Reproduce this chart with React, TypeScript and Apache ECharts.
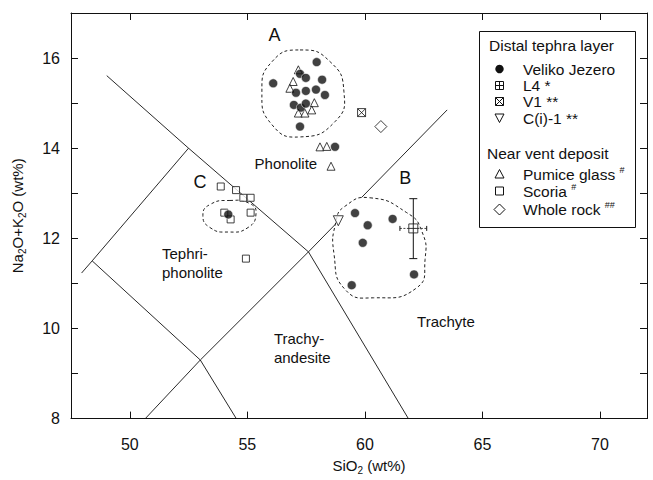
import React, { useEffect, useRef } from 'react';
import * as echarts from 'echarts';

const FONT = "'Liberation Sans', Arial, Helvetica, sans-serif";
const INK = '#111';

// Axes
const xRange = [47.5, 72];
const yRange = [8, 17];
const xTickLabels = [50, 55, 60, 65, 70];
const yTickLabels = [8, 10, 12, 14, 16];

// Distal tephra layer
const velikoJezero = [
  [57.95, 15.91], [56.1, 15.44], [57.24, 15.65], [57.49, 15.56], [58.18, 15.52],
  [57.07, 15.23], [57.49, 15.27], [57.92, 15.3], [58.3, 15.18], [56.98, 14.96],
  [57.28, 14.9], [57.49, 14.99], [57.24, 14.48], [58.73, 14.03],
  [59.58, 12.56], [60.12, 12.29], [61.18, 12.43], [59.91, 11.9], [62.09, 11.2], [59.44, 10.96],
  [54.19, 12.53],
];
const l4 = [[62.06, 12.22]];
const l4ErrorX = [61.49, 62.63];
const l4ErrorY = [11.55, 12.88];
const v1 = [[59.86, 14.79]];
const cI1 = [[58.87, 12.39]];

// Near vent deposit
const pumiceGlass = [
  [57.17, 15.74], [56.95, 15.48], [56.81, 15.33], [57.85, 15.01], [57.17, 14.78],
  [57.45, 14.78], [57.74, 14.85], [58.09, 14.03], [58.38, 14.04], [58.56, 13.6],
];
const scoria = [
  [53.87, 13.15], [54.52, 13.07], [54.83, 12.9], [55.14, 12.9], [55.14, 12.57],
  [54.02, 12.57], [54.29, 12.42], [54.94, 11.55],
];
const wholeRock = [[60.68, 14.48]];

// TAS field boundaries
const tasLine1 = [[49.02, 15.61], [52.5, 14], [57.6, 11.7], [61.85, 8]];
const tasLine2 = [[50.66, 8], [53, 9.3], [57.6, 11.7], [63.5, 14.85]];
const tasLine3 = [[52.5, 14], [48.4, 11.5], [47.95, 11.23]];
const tasLine4 = [[48.4, 11.5], [53, 9.3], [54.53, 8]];

// Dashed group outlines A, B, C
const regionA = [[57.24, 16.18], [58.52, 15.92], [59.11, 15.25], [58.73, 14.59], [57.24, 14.25], [56.05, 14.52], [55.62, 15.25], [56.05, 15.92]];
const regionB = [[60.21, 12.9], [61.78, 12.57], [62.42, 12.16], [62.56, 11.53], [62.2, 10.9], [60.36, 10.68], [59.15, 10.87], [58.69, 11.64], [58.77, 12.37], [59.15, 12.71]];
const regionC = [[54.26, 12.84], [55.11, 12.77], [55.37, 12.55], [55.03, 12.24], [54.18, 12.14], [53.41, 12.24], [53.11, 12.51], [53.41, 12.75]];
const regions = [regionA, regionB, regionC];
const regionCenters = [[57.3, 15.2, 0], [60.6, 11.8, 1], [54.25, 12.5, 2]];

// Text annotations (left edge, middle) with font size
const annotationX = [55.9, 61.46, 52.71, 55.31, 51.37, 56.13, 62.22];
const annotationY = [16.51, 13.34, 13.25, 13.67, 11.46, 9.56, 10.16];
const annotationText = ['A', 'B', 'C', 'Phonolite', 'Tephri-\nphonolite', 'Trachy-\nandesite', 'Trachyte'];
const annotationSize = [18, 18, 18, 15, 15, 15, 15];

// Legend
const legendDistal = ['Veliko Jezero', 'L4 *', 'V1 **', 'C(i)-1 **'];
const legendNear = ['Pumice glass ', 'Scoria ', 'Whole rock '];
const legendNearSup = ['#', '#', '##'];

const PATH_L4 = 'path://M0 0H10V10H0ZM5 0V10M0 5H10';
const PATH_V1 = 'path://M0 0H10V10H0ZM0 0L10 10M10 0L0 10';

function lineSeries(data: number[][]) {
  return {
    type: 'line', data, symbol: 'none', silent: true, z: 1,
    lineStyle: { color: INK, width: 0.9 },
  };
}

function openStyle() {
  return { color: '#fff', borderColor: INK, borderWidth: 1 };
}

function legendSymbol(kind: string, x: number, y: number) {
  const st = { fill: '#fff', stroke: INK, lineWidth: 1 };
  const z = 102;
  let children: any[] = [];
  if (kind === 'dot') children = [{ type: 'circle', z, shape: { cx: 0, cy: 0, r: 4.2 }, style: { fill: INK } }];
  if (kind === 'l4') children = [
    { type: 'rect', z, shape: { x: -4, y: -4, width: 8, height: 8 }, style: st },
    { type: 'line', z, shape: { x1: -4, y1: 0, x2: 4, y2: 0 }, style: st },
    { type: 'line', z, shape: { x1: 0, y1: -4, x2: 0, y2: 4 }, style: st },
  ];
  if (kind === 'v1') children = [
    { type: 'rect', z, shape: { x: -4, y: -4, width: 8, height: 8 }, style: st },
    { type: 'line', z, shape: { x1: -4, y1: -4, x2: 4, y2: 4 }, style: st },
    { type: 'line', z, shape: { x1: 4, y1: -4, x2: -4, y2: 4 }, style: st },
  ];
  if (kind === 'down') children = [{ type: 'polygon', z, shape: { points: [[-4.5, -4], [4.5, -4], [0, 4.5]] }, style: st }];
  if (kind === 'up') children = [{ type: 'polygon', z, shape: { points: [[-4.5, 4], [4.5, 4], [0, -4.5]] }, style: st }];
  if (kind === 'square') children = [{ type: 'rect', z, shape: { x: -4, y: -4, width: 8, height: 8 }, style: st }];
  if (kind === 'diamond') children = [{ type: 'polygon', z, shape: { points: [[0, -5.5], [5.5, 0], [0, 5.5], [-5.5, 0]] }, style: st }];
  return { type: 'group', x, y, children, z };
}

function buildLegend() {
  const els: any[] = [];
  const font = `15.5px ${FONT}`;
  els.push({ type: 'rect', shape: { x: 479.5, y: 31.5, width: 156, height: 196 }, style: { fill: '#fff', stroke: INK, lineWidth: 1 }, z: 100 });
  els.push({ type: 'text', x: 489, y: 45.5, z: 101, style: { text: 'Distal tephra layer', font, fill: INK, verticalAlign: 'middle' } });
  els.push({ type: 'text', x: 487, y: 153, z: 101, style: { text: 'Near vent deposit', font, fill: INK, verticalAlign: 'middle' } });
  const distalRows = [69, 85.5, 101.5, 118];
  const distalKinds = ['dot', 'l4', 'v1', 'down'];
  legendDistal.forEach((t, i) => {
    els.push(legendSymbol(distalKinds[i], 499.5, distalRows[i]));
    els.push({ type: 'text', x: 523, y: distalRows[i], z: 101, style: { text: t, font, fill: INK, verticalAlign: 'middle' } });
  });
  const nearRows = [174, 191, 209.5];
  const nearKinds = ['up', 'square', 'diamond'];
  legendNear.forEach((t, i) => {
    els.push(legendSymbol(nearKinds[i], 499.5, nearRows[i]));
    els.push({
      type: 'text', x: 523, y: nearRows[i], z: 101,
      style: {
        text: `{a|${t}}{s|${legendNearSup[i]}}`, fill: INK, verticalAlign: 'middle',
        rich: {
          a: { fontSize: 15.5, fontFamily: FONT, fill: INK },
          s: { fontSize: 9, fontFamily: FONT, fill: INK, padding: [0, 0, 9, 0] },
        },
      },
    });
  });
  return els;
}

export default function App() {
  const ref = useRef<HTMLDivElement>(null);
  useEffect(() => {
    if (!ref.current) return;
    const chart = echarts.init(ref.current, undefined, { renderer: 'svg' });
    const axisText = { fontSize: 15, fontFamily: FONT, color: INK };
    const tickText = { fontSize: 16, fontFamily: FONT, color: INK };
    const subRich = {
      s: { fontSize: 10, fontFamily: FONT, color: INK, padding: [10, 0, 0, 0] },
    };
    const annotations = annotationX.map((x, i) => [x, annotationY[i], i]);
    const option: any = {
      animation: false,
      backgroundColor: '#fff',
      textStyle: { fontFamily: FONT },
      grid: { left: 71, right: 6, top: 13, bottom: 60.5 },
      xAxis: [
        {
          type: 'value', min: xRange[0], max: xRange[1], position: 'bottom',
          name: 'SiO{s|2} (wt%)', nameLocation: 'middle', nameGap: 36,
          nameTextStyle: { ...axisText, rich: subRich, padding: [0, 0, 0, 20] },
          axisLine: { onZero: false, lineStyle: { color: INK, width: 1 } },
          axisTick: { inside: true, length: 7, lineStyle: { color: INK } },
          axisLabel: { ...tickText, margin: 18, formatter: (v: number) => (xTickLabels.includes(v) ? String(v) : '') },
          splitLine: { show: false },
        },
        {
          type: 'value', min: xRange[0], max: xRange[1], position: 'top',
          axisLine: { onZero: false, lineStyle: { color: INK, width: 1 } },
          axisTick: { inside: true, length: 7, lineStyle: { color: INK } },
          axisLabel: { show: false },
          splitLine: { show: false },
        },
      ],
      yAxis: [
        {
          type: 'value', min: yRange[0], max: yRange[1], interval: 1, position: 'left',
          name: 'Na{s|2}O+K{s|2}O (wt%)', nameLocation: 'middle', nameGap: 44,
          nameTextStyle: { ...axisText, rich: subRich },
          axisLine: { onZero: false, lineStyle: { color: INK, width: 1 } },
          axisTick: { inside: true, length: 7, lineStyle: { color: INK } },
          axisLabel: { ...tickText, margin: 11, formatter: (v: number) => (yTickLabels.includes(v) ? String(v) : '') },
          splitLine: { show: false },
        },
        {
          type: 'value', min: yRange[0], max: yRange[1], interval: 1, position: 'right',
          axisLine: { onZero: false, lineStyle: { color: INK, width: 1 } },
          axisTick: { inside: true, length: 7, lineStyle: { color: INK } },
          axisLabel: { show: false },
          splitLine: { show: false },
        },
      ],
      series: [
        lineSeries(tasLine1),
        lineSeries(tasLine2),
        lineSeries(tasLine3),
        lineSeries(tasLine4),
        {
          type: 'custom', silent: true, z: 2, data: regionCenters,
          encode: { x: 0, y: 1 },
          renderItem: (params: any, api: any) => {
            const idx = api.value(2);
            const pts = regions[idx].map((p) => api.coord(p));
            return {
              type: 'polygon',
              shape: { points: pts, smooth: 0.55 },
              style: { fill: idx === 1 ? '#fff' : 'none', stroke: '#222', lineWidth: 1, lineDash: [3, 2.5] },
            };
          },
        },
        {
          type: 'scatter', name: 'Pumice glass', data: pumiceGlass, symbol: 'triangle', symbolSize: 8, z: 3,
          itemStyle: openStyle(),
        },
        {
          type: 'scatter', name: 'Scoria', data: scoria, symbol: 'rect', symbolSize: 7, z: 3,
          itemStyle: openStyle(),
        },
        {
          type: 'scatter', name: 'Whole rock', data: wholeRock, symbol: 'diamond', symbolSize: 12, z: 3,
          itemStyle: openStyle(),
        },
        {
          type: 'scatter', name: 'Veliko Jezero', data: velikoJezero, symbol: 'circle', symbolSize: 9, z: 4,
          itemStyle: { color: INK, borderColor: '#fff', borderWidth: 0.7 },
        },
        {
          type: 'custom', silent: true, z: 4, data: [[l4[0][0], l4[0][1], l4ErrorX[0], l4ErrorX[1], l4ErrorY[0], l4ErrorY[1]]],
          encode: { x: 0, y: 1 },
          renderItem: (params: any, api: any) => {
            const x = api.value(0), y = api.value(1);
            const top = api.coord([x, api.value(5)]);
            const bot = api.coord([x, api.value(4)]);
            const l = api.coord([api.value(2), y]);
            const r = api.coord([api.value(3), y]);
            const s = { stroke: INK, lineWidth: 1 };
            const sh = { stroke: '#444', lineWidth: 1, lineDash: [2, 1.5] };
            return {
              type: 'group',
              children: [
                { type: 'line', shape: { x1: top[0], y1: top[1], x2: bot[0], y2: bot[1] }, style: s },
                { type: 'line', shape: { x1: top[0] - 4, y1: top[1], x2: top[0] + 4, y2: top[1] }, style: s },
                { type: 'line', shape: { x1: bot[0] - 4, y1: bot[1], x2: bot[0] + 4, y2: bot[1] }, style: s },
                { type: 'line', shape: { x1: l[0], y1: l[1], x2: r[0], y2: r[1] }, style: sh },
                { type: 'line', shape: { x1: l[0], y1: l[1] - 2.5, x2: l[0], y2: l[1] + 2.5 }, style: s },
                { type: 'line', shape: { x1: r[0], y1: r[1] - 2.5, x2: r[0], y2: r[1] + 2.5 }, style: s },
              ],
            };
          },
        },
        {
          type: 'scatter', name: 'L4', data: l4, symbol: PATH_L4, symbolSize: 9, z: 5,
          itemStyle: openStyle(),
        },
        {
          type: 'scatter', name: 'V1', data: v1, symbol: PATH_V1, symbolSize: 8, z: 5,
          itemStyle: openStyle(),
        },
        {
          type: 'scatter', name: 'C(i)-1', data: cI1, symbol: 'triangle', symbolRotate: 180, symbolSize: 10, z: 5,
          itemStyle: openStyle(),
        },
        {
          type: 'custom', silent: true, z: 6, data: annotations,
          encode: { x: 0, y: 1 },
          renderItem: (params: any, api: any) => {
            const i = api.value(2);
            const p = api.coord([api.value(0), api.value(1)]);
            return {
              type: 'text',
              x: p[0], y: p[1],
              style: {
                text: annotationText[i], fill: INK, align: 'left', verticalAlign: 'middle',
                fontSize: annotationSize[i], fontFamily: FONT, lineHeight: 19,
              },
            };
          },
        },
      ],
      graphic: buildLegend(),
    };
    chart.setOption(option);
    return () => chart.dispose();
  }, []);
  return <div ref={ref} style={{ position: 'fixed', left: 0, top: 0, width: 653, height: 480, background: '#fff' }} />;
}
